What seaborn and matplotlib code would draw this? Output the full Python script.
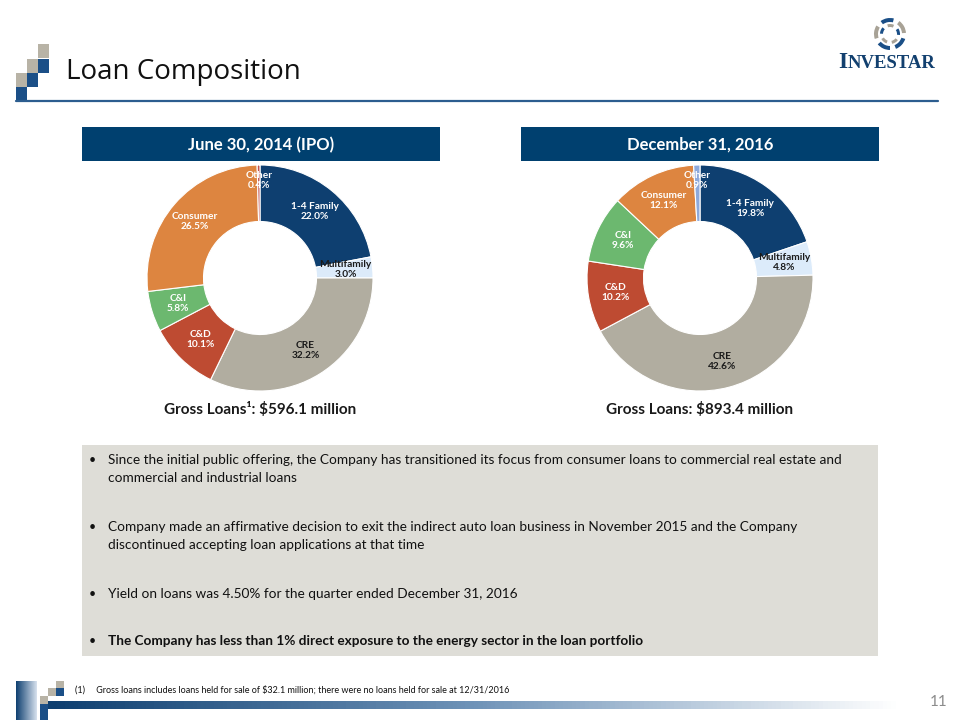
import numpy as np
import matplotlib
matplotlib.use("Agg")
import matplotlib.pyplot as plt
from matplotlib.patches import Rectangle, Wedge
import seaborn as sns

# ---- data ----
categories = ["1-4 Family", "Multifamily", "CRE", "C&D", "C&I", "Consumer", "Other"]
share_2014 = [22.0, 3.0, 32.2, 10.1, 5.8, 26.5, 0.4]
share_2016 = [19.8, 4.8, 42.6, 10.2, 9.6, 12.1, 0.9]
gross_2014 = 596.1
gross_2016 = 893.4

colors_base = ["#0E3F70", "#DCEBFA", "#B1ADA0", "#BE4B32", "#6CB86F", "#DD8540"]
other_2014 = "#C0504D"
other_2016 = "#8EA9DB"
dark_labels = {"Multifamily", "CRE"}

bullets = [
    ("Since the initial public offering, the Company has transitioned its focus from consumer loans to commercial real estate and\ncommercial and industrial loans", False),
    ("Company made an affirmative decision to exit the indirect auto loan business in November 2015 and the Company\ndiscontinued accepting loan applications at that time", False),
    ("Yield on loans was 4.50% for the quarter ended December 31, 2016", False),
    ("The Company has less than 1% direct exposure to the energy sector in the loan portfolio", True),
]

sns.set_theme(style="white")
plt.rcParams["font.family"] = ["Lato", "DejaVu Sans"]

W, H = 960, 720
fig = plt.figure(figsize=(9.6, 7.2), dpi=100)
fig.patch.set_facecolor("white")

# background axes in pixel coordinates
bg = fig.add_axes([0, 0, 1, 1])
bg.set_xlim(0, W)
bg.set_ylim(H, 0)
bg.axis("off")

navy = "#00406F"

# top-left staircase
sq = [(38, 44, "#B8B3A6"), (38, 59, "#1B4F87"), (27, 59, "#B8B3A6"),
      (27, 73, "#1B4F87"), (16, 73, "#B8B3A6"), (16, 87, "#1B4F87")]
for x, y, c in sq:
    bg.add_patch(Rectangle((x, y), 11, 14, color=c, lw=0))
bg.plot([16, 938], [101, 101], color="#2C5D8F", lw=1.6)
bg.text(66, 72, "Loan Composition", fontsize=20, va="center", ha="left",
        color="#111111", family=["Open Sans", "DejaVu Sans"])

# logo
cx, cy, r = 890, 34, 12
for i in range(5):
    a0 = 90 + i * 72
    col = "#1B4F87" if i % 2 == 0 else "#A8A296"
    bg.add_patch(Wedge((cx, cy), r + 4, a0, a0 + 50, width=4, color=col, lw=0))
    bg.add_patch(Wedge((cx, cy), r - 2, a0 + 20, a0 + 60, width=3, color="#1B4F87" if i % 2 else "#A8A296", lw=0))
bg.text(838, 62, "I", fontsize=17, ha="left", va="center", color="#12406F",
        family=["Liberation Serif", "DejaVu Serif"], fontweight="bold")
bg.text(848, 63.5, "NVESTAR", fontsize=13.5, ha="left", va="center", color="#12406F",
        family=["Liberation Serif", "DejaVu Serif"], fontweight="bold")

# header boxes
for x0, label in [(82, "June 30, 2014 (IPO)"), (521, "December 31, 2016")]:
    bg.add_patch(Rectangle((x0, 127), 358, 34, color=navy, lw=0))
    bg.text(x0 + 179, 145, label, color="white", fontsize=12, fontweight="bold",
            ha="center", va="center")


def donut(cx, cy, values, other_col):
    rad = 113
    ax = fig.add_axes([(cx - rad) / W, (H - cy - rad) / H, 2 * rad / W, 2 * rad / H])
    cols = colors_base + [other_col]
    ax.pie(values, colors=cols, startangle=90, counterclock=False,
           radius=1.0, wedgeprops=dict(width=0.5, edgecolor="white", linewidth=0.8))
    total = sum(values)
    cum = 0
    for cat, v in zip(categories, values):
        mid = (cum + v / 2) / total * 360
        cum += v
        ang = np.deg2rad(90 - mid)
        rr = 0.86 if cat == "Other" else 0.76
        tc = "#1A1A1A" if cat in dark_labels else "white"
        ax.text(rr * np.cos(ang), rr * np.sin(ang), f"{cat}\n{v:.1f}%", ha="center", va="center",
                fontsize=7.3, fontweight="bold", color=tc, linespacing=1.15)
    ax.set_xlim(-1, 1)
    ax.set_ylim(-1, 1)
    ax.set_aspect("equal")
    ax.axis("off")


donut(260, 278, share_2014, other_2014)
donut(700, 278, share_2016, other_2016)

bg.text(260, 410, f"Gross Loans\u00b9: ${gross_2014:.1f} million", fontsize=11, fontweight="bold",
        ha="center", va="center", color="#1A1A1A")
bg.text(700, 410, f"Gross Loans: ${gross_2016:.1f} million", fontsize=11, fontweight="bold",
        ha="center", va="center", color="#1A1A1A")

# bullet box
bg.add_patch(Rectangle((82, 445), 796, 211, color="#DEDDD7", lw=0))
ys = [469, 536, 594, 641]
for (txt, bold), y in zip(bullets, ys):
    nl = txt.count("\n") + 1
    bg.text(89, y - (9 if nl == 2 else 0), "\u2022", fontsize=9, ha="left", va="center", color="#111111")
    bg.text(108, y, txt, fontsize=9.8, ha="left", va="center", color="#111111",
            fontweight="bold" if bold else "normal", linespacing=1.6)

# bottom decoration
grad = np.linspace(0, 1, 200).reshape(1, -1)
bg.imshow(grad, extent=(48, 900, 709, 701), cmap=sns.blend_palette(["#0E3F70", "#6F93B8", "#FFFFFF"], as_cmap=True),
          aspect="auto", zorder=1)
bg.imshow(grad, extent=(16, 37, 720, 681), cmap=sns.blend_palette(["#0E3F70", "#D8E2EE"], as_cmap=True),
          aspect="auto", zorder=1)
for x, y, h, c in [(56, 681, 7, "#B8B3A6"), (48, 688, 8, "#B8B3A6"), (56, 688, 8, "#1B4F87"),
                   (40, 696, 8, "#B8B3A6"), (40, 704, 16, "#1B4F87")]:
    bg.add_patch(Rectangle((x, y), 8, h, color=c, lw=0, zorder=2))
bg.set_xlim(0, W)
bg.set_ylim(H, 0)

bg.text(75, 690, "(1)     Gross loans includes loans held for sale of $32.1 million; there were no loans held for sale at 12/31/2016",
        fontsize=6.5, ha="left", va="center", color="#111111")
bg.text(948, 702, "11", fontsize=11, ha="right", va="center", color="#8C8C8C")

fig.savefig("out.png", dpi=100)
